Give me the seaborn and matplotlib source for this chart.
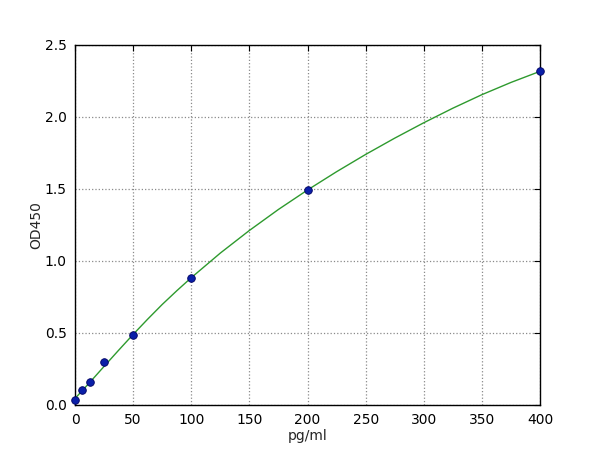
import matplotlib
matplotlib.use("Agg")
import matplotlib.pyplot as plt
import seaborn as sns
import pandas as pd

# Measured standard points
conc = [0, 6.25, 12.5, 25, 50, 100, 200, 400]
od = [0.035, 0.104, 0.160, 0.296, 0.488, 0.884, 1.493, 2.317]

# Fitted curve values
curve_x = [0, 6.25, 12.5, 25, 37.5, 50, 62.5, 75, 87.5, 100, 125, 150, 175, 200,
           225, 250, 275, 300, 325, 350, 375, 400]
curve_y = [0.045, 0.100, 0.155, 0.268, 0.380, 0.490, 0.596, 0.698, 0.793, 0.884,
           1.055, 1.212, 1.358, 1.493, 1.620, 1.740, 1.853, 1.960, 2.061, 2.155,
           2.240, 2.317]

x_ticks = [0, 50, 100, 150, 200, 250, 300, 350, 400]
y_ticks = [0.0, 0.5, 1.0, 1.5, 2.0, 2.5]

sns.set_style("white")
plt.rcParams["font.family"] = ["DejaVu Sans"]
plt.rcParams["xtick.direction"] = "in"
plt.rcParams["ytick.direction"] = "in"

fig = plt.figure(figsize=(6, 4.5), dpi=100)
ax = fig.add_axes([0.125, 0.1, 0.775, 0.8])

df_curve = pd.DataFrame({"x": curve_x, "y": curve_y})
df_pts = pd.DataFrame({"x": conc, "y": od})

sns.lineplot(data=df_curve, x="x", y="y", ax=ax, color="#2e9a2e", linewidth=1.0,
             zorder=3)
sns.scatterplot(data=df_pts, x="x", y="y", ax=ax, color="#0a1fa8",
                edgecolor="#000060", linewidth=0.6, s=30, zorder=4, clip_on=False)

ax.set_xlim(0, 400)
ax.set_ylim(0, 2.5)
ax.set_xticks(x_ticks)
ax.set_yticks(y_ticks)
ax.set_xticklabels([str(v) for v in x_ticks])
ax.set_yticklabels([f"{v:.1f}" for v in y_ticks])
ax.set_xlabel("pg/ml", fontsize=10, labelpad=1)
ax.set_ylabel("OD450", fontsize=10, labelpad=1)
ax.tick_params(axis="both", which="both", direction="in", length=4, width=0.8,
               top=True, right=True, labelsize=10, colors="black", pad=6)
ax.grid(True, linestyle=":", color="#8a8a8a", linewidth=0.9)
for sp in ax.spines.values():
    sp.set_visible(True)
    sp.set_color("black")
    sp.set_linewidth(1.0)

fig.savefig("out.png", dpi=100, facecolor="white")
